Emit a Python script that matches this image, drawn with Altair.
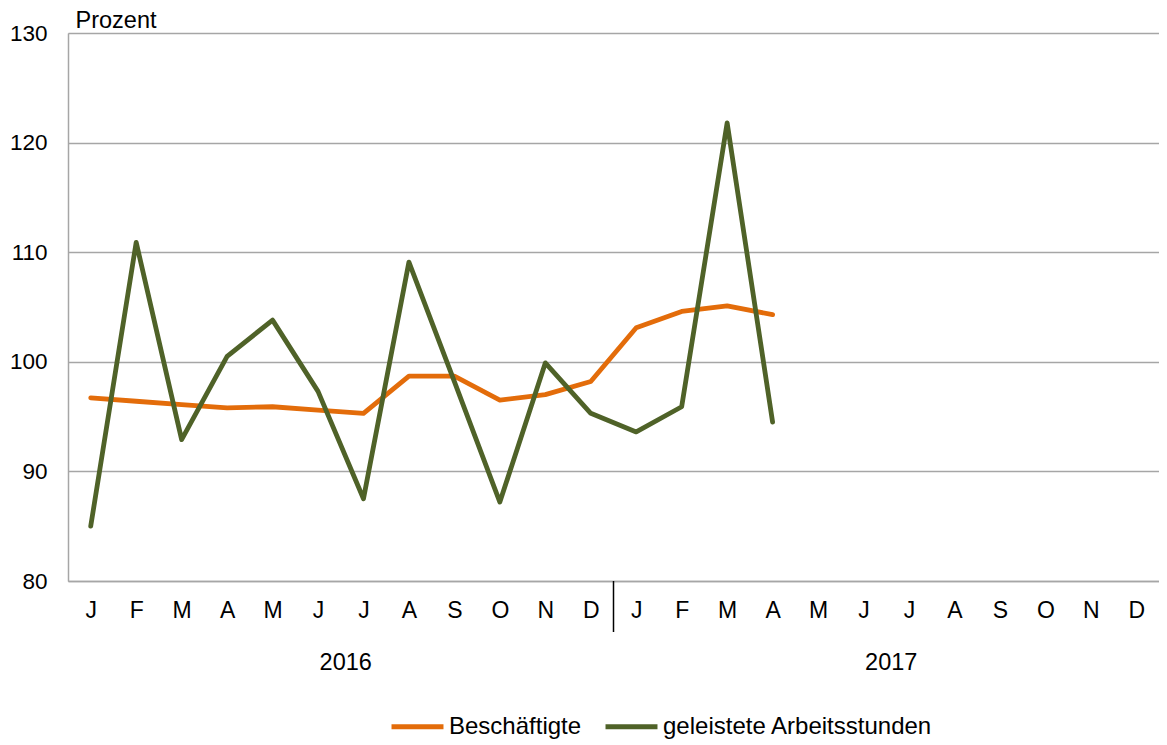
import altair as alt
import pandas as pd

month_letters = ["J", "F", "M", "A", "M", "J", "J", "A", "S", "O", "N", "D"]
years = ["2016", "2017"]
series_names = ["Beschäftigte", "geleistete Arbeitsstunden"]
beschaeftigte = [96.7, 96.4, 96.1, 95.8, 95.9, 95.6, 95.3, 98.7, 98.7, 96.5, 97.0, 98.2,
                 103.1, 104.6, 105.1, 104.3]
arbeitsstunden = [85.0, 110.9, 92.9, 100.5, 103.8, 97.3, 87.5, 109.1, 98.2, 87.2, 99.9, 95.3,
                  93.6, 95.9, 121.8, 94.5]
colors = ["#E36C0A", "#4F6228"]

n_months = len(month_letters) * len(years)

rows = []
for name, vals in zip(series_names, [beschaeftigte, arbeitsstunden]):
    for i, v in enumerate(vals):
        rows.append({"idx": i, "wert": v, "reihe": name})
df = pd.DataFrame(rows)

year_df = pd.DataFrame({"jahr": years,
                        "pos": [i * 12 + 5.5 for i in range(len(years))]})
sep_df = pd.DataFrame({"pos": [11.5]})

font = "Liberation Sans"
W, H = 1091, 548

label_expr = "[" + ",".join("'" + m + "'" for m in month_letters) + "][datum.value % 12]"

x_scale = alt.Scale(domain=[-0.5, n_months - 0.5], nice=False, zero=False)

lines = alt.Chart(df).mark_line(strokeWidth=4.8, strokeCap="round", strokeJoin="round").encode(
    x=alt.X("idx:Q", scale=x_scale,
            axis=alt.Axis(values=list(range(n_months)), labelExpr=label_expr, title=None,
                          grid=False, ticks=False, domainColor="#A6A6A6", domainWidth=1.5,
                          labelFont=font, labelFontSize=23, labelColor="#000000",
                          labelPadding=18, labelFlush=False)),
    y=alt.Y("wert:Q", scale=alt.Scale(domain=[80, 130], nice=False, zero=False),
            axis=alt.Axis(values=[80, 90, 100, 110, 120, 130], title="Prozent",
                          titleAngle=0, titleAlign="left", titleBaseline="alphabetic",
                          titleX=7, titleY=-6, titleFont=font, titleFontSize=23.5,
                          titleFontWeight="normal", titleColor="#000000",
                          grid=True, gridColor="#A6A6A6", gridWidth=1.5, ticks=False,
                          domainColor="#A6A6A6", domainWidth=1.5,
                          labelFont=font, labelFontSize=22.5, labelColor="#000000",
                          labelPadding=21)),
    color=alt.Color("reihe:N", sort=series_names,
                    scale=alt.Scale(domain=series_names, range=colors),
                    legend=alt.Legend(title=None, orient="none", direction="horizontal",
                                      legendX=321, legendY=665,
                                      symbolType="stroke", symbolSize=2700,
                                      symbolStrokeWidth=4.8, labelFont=font,
                                      labelFontSize=24, labelColor="#000000",
                                      labelOffset=3, columnPadding=13,
                                      labelLimit=400)),
)

sep = alt.Chart(sep_df).mark_rule(color="#000000", strokeWidth=1.5).encode(
    x=alt.X("pos:Q", scale=x_scale),
    y=alt.value(H),
    y2=alt.value(H + 51),
)

year_text = alt.Chart(year_df).mark_text(font=font, fontSize=23.5, color="#000000",
                                         baseline="middle", align="center", dx=5).encode(
    x=alt.X("pos:Q", scale=x_scale),
    y=alt.value(H + 82),
    text="jahr:N",
)

chart = alt.layer(lines, sep, year_text).properties(
    width=W, height=H,
    autosize=alt.AutoSizeParams(type="none"),
    padding={"left": 60, "top": 25, "right": 0, "bottom": 162},
).configure_view(stroke=None).configure(background="#FFFFFF")

chart.save("out.html", embed_options={"renderer": "svg", "actions": False})
